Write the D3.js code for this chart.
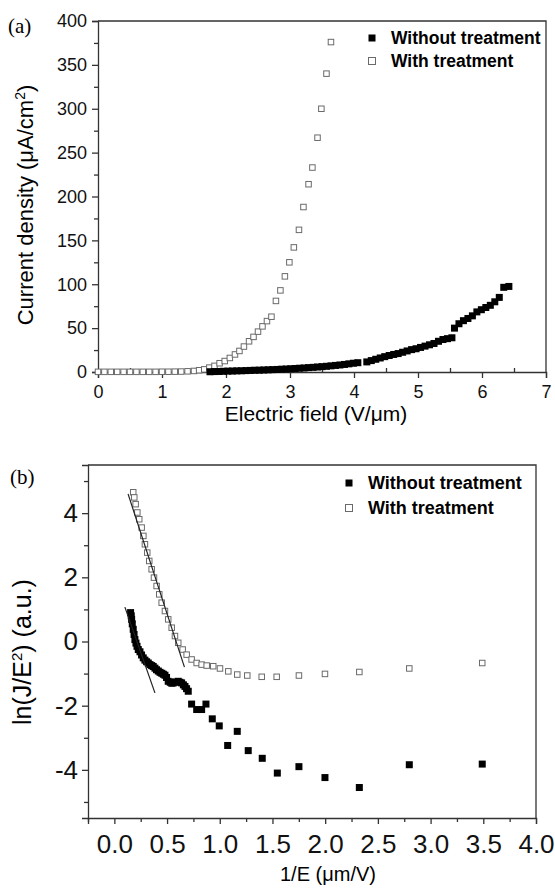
<!DOCTYPE html>
<html lang="en">
<head>
<meta charset="utf-8">
<title>Field emission J-E and F-N plots</title>
<script src="https://cdn.jsdelivr.net/npm/d3@7"></script>
<style>
  body { margin: 0; background: #fff; }
  svg { display: block; }
  .axis path, .axis line { stroke: #333; stroke-width: 1.3; }
  .axis text { fill: #111; font-family: "Liberation Sans", Arial, sans-serif; }
</style>
</head>
<body>
<script>
// panel (a): current density vs electric field
var withoutE = [1.75,1.82,1.89,1.96,2.03,2.10,2.17,2.24,2.31,2.38,2.45,2.52,2.59,2.66,2.73,2.80,2.87,2.94,3.01,3.08,
  3.15,3.22,3.29,3.36,3.43,3.50,3.57,3.64,3.71,3.78,3.85,3.92,3.99,4.06,4.20,4.27,4.34,4.41,4.48,4.55,
  4.62,4.69,4.76,4.83,4.90,4.97,5.04,5.11,5.18,5.25,5.32,5.39,5.46,5.53,5.57,5.64,5.71,5.78,5.85,5.92,
  5.99,6.06,6.13,6.20,6.27,6.34,6.42];
var withoutJ = [0.3,0.5,0.6,0.8,1.0,1.1,1.3,1.4,1.6,1.8,2.0,2.1,2.3,2.5,2.7,2.9,3.2,3.4,3.7,4.0,
  4.3,4.6,5.0,5.3,5.7,6.1,6.5,7.0,7.5,8.0,8.6,9.3,10.0,10.6,11.5,13.0,14.5,16.0,17.5,18.8,
  20.0,21.0,22.5,24.0,25.5,26.5,28.0,29.5,31.0,32.5,35.0,37.0,38.0,39.0,50.0,55.0,58.5,61.0,64.0,68.5,
  71.0,73.5,76.0,80.0,85.0,96.5,97.5];
var withE = [0.0,0.1,0.2,0.3,0.4,0.5,0.6,0.7,0.8,0.9,1.0,1.1,1.2,1.3,1.4,1.5,
  1.58,1.66,1.74,1.82,1.90,1.98,2.06,2.14,2.21,2.28,2.36,2.43,2.50,2.57,2.64,2.71,2.78,2.85,2.92,2.99,
  3.06,3.14,3.21,3.29,3.35,3.43,3.49,3.57,3.64];
var withJ = [0.2,0.2,0.2,0.2,0.2,0.2,0.2,0.2,0.2,0.2,0.3,0.3,0.4,0.5,0.8,1.2,
  2,3,5,7,10,12.5,16,20,24,29,35,40,46,52,58,63,81,93,109,125,
  142,162,188,214,233,267,300,340,376];

// panel (b): Fowler-Nordheim plot
var fnWithoutX = [0.154,0.160,0.164,0.170,0.179,0.187,0.195,0.205,0.215,0.227,0.243,0.258,0.274,0.290,0.306,0.322,0.338,0.354,0.369,0.385,
  0.400,0.417,0.433,0.450,0.465,0.480,0.495,0.511,0.530,0.545,0.559,0.580,0.606,0.622,0.638,0.655,0.670,0.685,0.701,0.733,
  0.781,0.828,0.869,0.929,0.995,1.075,1.166,1.270,1.403,1.546,1.751,1.998,2.324,2.798,3.490];
var fnWithoutY = [0.90,0.80,0.69,0.55,0.38,0.22,0.06,-0.05,-0.15,-0.25,-0.32,-0.42,-0.51,-0.58,-0.63,-0.67,-0.72,-0.75,-0.78,-0.83,
  -0.88,-0.92,-0.96,-0.99,-1.02,-1.05,-1.12,-1.24,-1.27,-1.30,-1.29,-1.26,-1.24,-1.27,-1.29,-1.35,-1.40,-1.47,-1.55,-1.95,
  -2.12,-2.12,-1.95,-2.41,-2.63,-3.24,-2.80,-3.40,-3.64,-4.10,-3.90,-4.24,-4.55,-3.84,-3.82];
var fnWithX = [0.179,0.189,0.202,0.218,0.236,0.259,0.275,0.290,0.312,0.331,0.354,0.376,0.401,0.426,0.449,0.480,0.511,0.544,0.575,0.606,
  0.648,0.686,0.733,0.781,0.828,0.876,0.938,1.002,1.081,1.166,1.261,1.398,1.540,1.751,1.998,2.324,2.798,3.490];
var fnWithY = [4.65,4.49,4.28,4.02,3.81,3.55,3.29,3.03,2.77,2.51,2.25,1.99,1.73,1.47,1.21,0.95,0.69,0.43,0.17,-0.04,
  -0.25,-0.41,-0.56,-0.67,-0.72,-0.75,-0.77,-0.84,-0.93,-1.03,-1.06,-1.10,-1.10,-1.06,-1.01,-0.95,-0.84,-0.67];
// linear fits drawn over the F-N data (end points)
var fitWithX = [0.13, 0.665], fitWithY = [4.6, -0.8];
var fitWithoutX = [0.10, 0.385], fitWithoutY = [1.07, -1.60];

// ticks
var xTicksA = [0,1,2,3,4,5,6,7], xMinorA = [0.5,1.5,2.5,3.5,4.5,5.5,6.5];
var yTicksA = [0,50,100,150,200,250,300,350,400], yMinorA = [25,75,125,175,225,275,325,375];
var xTicksB = [0,0.5,1,1.5,2,2.5,3,3.5,4], xMinorB = [-0.25,0.25,0.75,1.25,1.75,2.25,2.75,3.25,3.75];
var yTicksB = [-4,-2,0,2,4], yMinorB = [-5,-3,-1,1,3,5];

var seriesNames = ["Without treatment", "With treatment"];

var w = 555, h = 888;
var svg = d3.select("body").append("svg").attr("width", w).attr("height", h);

function zip(xs, ys) { return xs.map(function(x, i) { return [x, ys[i]]; }); }

function drawSquares(g, data, x, y, size, filled) {
  g.selectAll(null).data(data).enter().append("rect")
    .attr("x", function(d) { return x(d[0]) - size / 2; })
    .attr("y", function(d) { return y(d[1]) - size / 2; })
    .attr("width", size).attr("height", size)
    .attr("fill", filled ? "#000" : "#fff")
    .attr("stroke", filled ? "none" : "#6a6a6a")
    .attr("stroke-width", 1);
}

function frame(x, y) {
  var x0 = x.range()[0], x1 = x.range()[1], y0 = y.range()[0], y1 = y.range()[1];
  svg.append("path")
    .attr("d", "M" + x0 + "," + y1 + "H" + x1 + "V" + y0)
    .attr("fill", "none").attr("stroke", "#333").attr("stroke-width", 1.3);
}

function legend(x0, y0, dy, fs, mk) {
  seriesNames.forEach(function(name, i) {
    var cy = y0 + i * dy;
    svg.append("rect")
      .attr("x", x0 - mk / 2).attr("y", cy - mk / 2)
      .attr("width", mk).attr("height", mk)
      .attr("fill", i === 0 ? "#000" : "#fff")
      .attr("stroke", i === 0 ? "none" : "#6a6a6a");
    svg.append("text")
      .attr("x", x0 + 19).attr("y", cy + fs * 0.36)
      .attr("font-family", "'Liberation Sans', Arial, sans-serif")
      .attr("font-weight", "bold").attr("font-size", fs)
      .text(name);
  });
}

// ---------- panel (a) ----------
var xA = d3.scaleLinear().domain([0, 7]).range([98, 546]);
var yA = d3.scaleLinear().domain([0, 400]).range([372, 21]);

frame(xA, yA);

svg.append("g").attr("class", "axis").attr("transform", "translate(0,372)")
  .call(d3.axisBottom(xA).tickValues(xTicksA).tickSize(6).tickPadding(7).tickFormat(d3.format("d")))
  .call(function(g) { g.selectAll("text").attr("font-size", 18); });
svg.append("g").attr("class", "axis").attr("transform", "translate(0,372)")
  .call(d3.axisTop(xA).tickValues(xMinorA).tickSize(4).tickFormat(""))
  .call(function(g) { g.select(".domain").remove(); });
svg.append("g").attr("class", "axis").attr("transform", "translate(98,0)")
  .call(d3.axisLeft(yA).tickValues(yTicksA).tickSize(6).tickPadding(5))
  .call(function(g) { g.selectAll("text").attr("font-size", 18); });
svg.append("g").attr("class", "axis").attr("transform", "translate(98,0)")
  .call(d3.axisLeft(yA).tickValues(yMinorA).tickSize(4).tickFormat(""))
  .call(function(g) { g.select(".domain").remove(); });

var gA = svg.append("g");
drawSquares(gA, zip(withE, withJ), xA, yA, 5.5, false);
drawSquares(gA, zip(withoutE, withoutJ), xA, yA, 7, true);

legend(372, 38, 23, 17.5, 7);

svg.append("text").attr("x", 8).attr("y", 33)
  .attr("font-family", "'Liberation Serif', 'Times New Roman', serif").attr("font-size", 21)
  .text("(a)");

var ylabA = svg.append("text")
  .attr("transform", "translate(33,205) rotate(-90)")
  .attr("text-anchor", "middle")
  .attr("font-family", "'Liberation Sans', Arial, sans-serif").attr("font-size", 22);
ylabA.append("tspan").text("Current density (\u03bcA/cm");
ylabA.append("tspan").attr("font-size", 14).attr("dy", -8).text("2");
ylabA.append("tspan").attr("dy", 8).text(")");

svg.append("text").attr("x", 316).attr("y", 421)
  .attr("text-anchor", "middle")
  .attr("font-family", "'Liberation Sans', Arial, sans-serif").attr("font-size", 21)
  .text("Electric field (V/\u03bcm)");

// ---------- panel (b) ----------
var xB = d3.scaleLinear().domain([-0.25, 4]).range([88, 536]);
var yB = d3.scaleLinear().domain([-5.5, 5.5]).range([818, 465]);

frame(xB, yB);

svg.append("g").attr("class", "axis").attr("transform", "translate(0,818)")
  .call(d3.axisBottom(xB).tickValues(xTicksB).tickSize(6).tickPadding(11).tickFormat(d3.format(".1f")))
  .call(function(g) { g.selectAll("text").attr("font-size", 26); });
svg.append("g").attr("class", "axis").attr("transform", "translate(0,818)")
  .call(d3.axisBottom(xB).tickValues(xMinorB).tickSize(4).tickFormat(""))
  .call(function(g) { g.select(".domain").remove(); });
svg.append("g").attr("class", "axis").attr("transform", "translate(88,0)")
  .call(d3.axisLeft(yB).tickValues(yTicksB).tickSize(6).tickPadding(4).tickFormat(function(d) { return String(d).replace("\u2212", "-"); }))
  .call(function(g) { g.selectAll("text").attr("font-size", 26); });
svg.append("g").attr("class", "axis").attr("transform", "translate(88,0)")
  .call(d3.axisLeft(yB).tickValues(yMinorB).tickSize(4).tickFormat(""))
  .call(function(g) { g.select(".domain").remove(); });

var gB = svg.append("g");
drawSquares(gB, zip(fnWithX, fnWithY), xB, yB, 5.5, false);
drawSquares(gB, zip(fnWithoutX, fnWithoutY), xB, yB, 7, true);

var line = d3.line().x(function(d) { return xB(d[0]); }).y(function(d) { return yB(d[1]); });
[zip(fitWithX, fitWithY), zip(fitWithoutX, fitWithoutY)].forEach(function(seg) {
  gB.append("path").attr("d", line(seg))
    .attr("fill", "none").attr("stroke", "#222").attr("stroke-width", 1.2);
});

legend(349, 483, 25, 18, 7);

svg.append("text").attr("x", 10).attr("y", 484)
  .attr("font-family", "'Liberation Serif', 'Times New Roman', serif").attr("font-size", 21)
  .text("(b)");

var ylabB = svg.append("text")
  .attr("transform", "translate(31,652) rotate(-90)")
  .attr("text-anchor", "middle")
  .attr("font-family", "'Liberation Sans', Arial, sans-serif").attr("font-size", 25);
ylabB.append("tspan").text("ln(J/E");
ylabB.append("tspan").attr("font-size", 15).attr("dy", -9).text("2");
ylabB.append("tspan").attr("dy", 9).text(") (a.u.)");

svg.append("text").attr("x", 328).attr("y", 881)
  .attr("text-anchor", "middle")
  .attr("font-family", "'Liberation Sans', Arial, sans-serif").attr("font-size", 20)
  .text("1/E (\u03bcm/V)");
</script>
</body>
</html>
